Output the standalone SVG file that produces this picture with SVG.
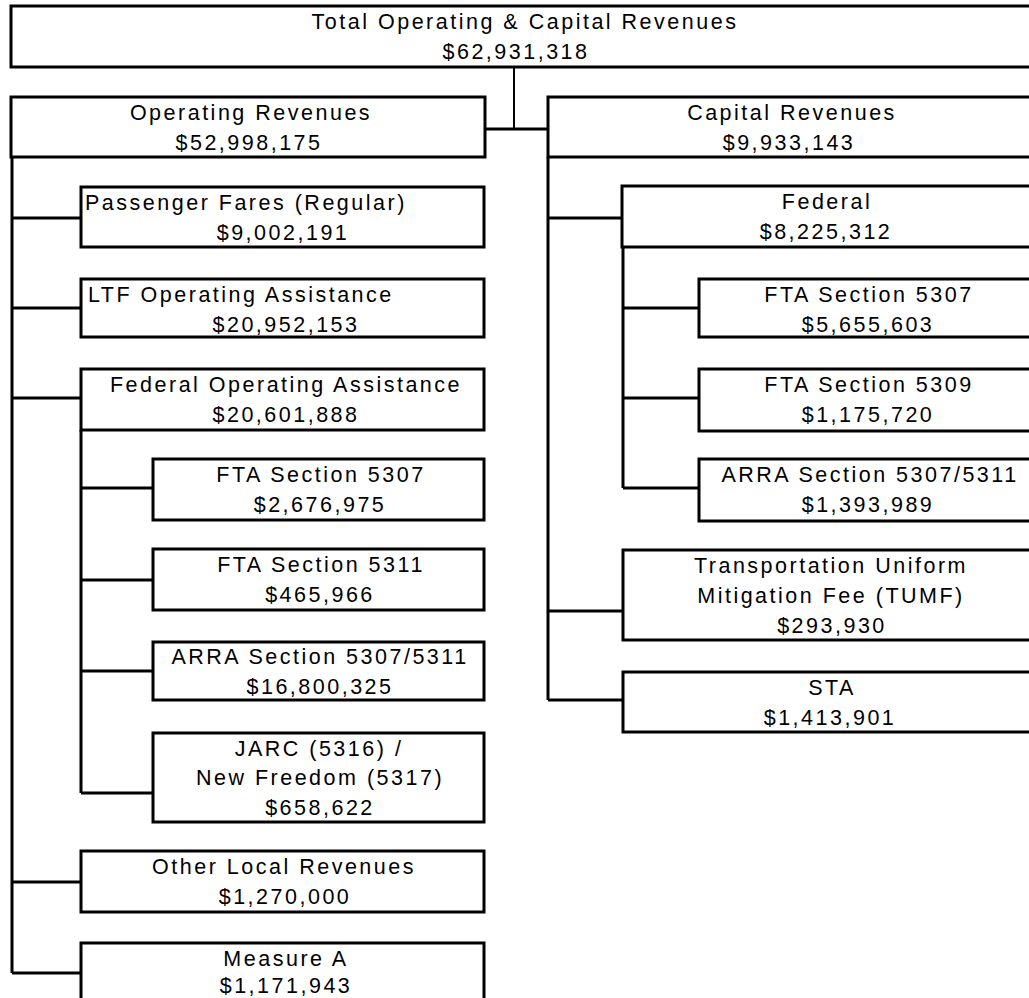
<svg xmlns="http://www.w3.org/2000/svg" width="1029" height="998" viewBox="0 0 1029 998">
<style>
.box{fill:#fff;stroke:#000;stroke-width:3}
.c{fill:none;stroke:#000;stroke-width:3}
text{font-family:"Liberation Sans",Arial,sans-serif;font-size:21.5px;letter-spacing:2.5px;fill:#000}
.m{text-anchor:middle}
</style>
<rect width="1029" height="998" fill="#fff"/>
<g id="connectors">
<path class="c" style="stroke-width:2" d="M514,67V129"/>
<path class="c" d="M485,129H548"/>
<path class="c" d="M12,157V973M12,218H81M12,308H81M12,398H81M12,882H81M12,973H81"/>
<path class="c" d="M81,430V793M81,488H153M81,580H153M81,671H153M81,793H153"/>
<path class="c" d="M548,157V700M548,218H622M548,611H623M548,700H623"/>
<path class="c" d="M623,247V488M623,308H699M623,398H699M623,488H699"/>
</g>
<g id="total">
<rect class="box" x="11" y="6" width="1022" height="61"/>
<text class="m" x="525" y="29">Total Operating &amp; Capital Revenues</text>
<text class="m" x="516" y="59">$62,931,318</text>
</g>
<g id="operating">
<rect class="box" x="11" y="97" width="474" height="60"/>
<text class="m" x="251" y="120">Operating Revenues</text>
<text class="m" x="249" y="150">$52,998,175</text>
</g>
<g id="capital">
<rect class="box" x="548" y="97" width="485" height="60"/>
<text class="m" x="792" y="120">Capital Revenues</text>
<text class="m" x="789" y="150">$9,933,143</text>
</g>
<g id="passenger">
<rect class="box" x="81" y="187" width="403" height="60"/>
<text x="85" y="210">Passenger Fares (Regular)</text>
<text class="m" x="283" y="240">$9,002,191</text>
</g>
<g id="ltf">
<rect class="box" x="81" y="279" width="403" height="58"/>
<text x="88" y="302">LTF Operating Assistance</text>
<text class="m" x="286" y="332">$20,952,153</text>
</g>
<g id="fedop">
<rect class="box" x="81" y="369" width="403" height="61"/>
<text class="m" x="286" y="392">Federal Operating Assistance</text>
<text class="m" x="286" y="422">$20,601,888</text>
</g>
<g id="fta5307L">
<rect class="box" x="153" y="459" width="331" height="61"/>
<text class="m" x="321" y="482">FTA Section 5307</text>
<text class="m" x="320" y="512">$2,676,975</text>
</g>
<g id="fta5311L">
<rect class="box" x="153" y="549" width="331" height="61"/>
<text class="m" x="321" y="572">FTA Section 5311</text>
<text class="m" x="320" y="602">$465,966</text>
</g>
<g id="arraL">
<rect class="box" x="153" y="642" width="331" height="58"/>
<text class="m" x="320" y="664">ARRA Section 5307/5311</text>
<text class="m" x="320" y="694">$16,800,325</text>
</g>
<g id="jarc">
<rect class="box" x="153" y="733" width="331" height="89"/>
<text class="m" x="319" y="756">JARC (5316) /</text>
<text class="m" x="320" y="785">New Freedom (5317)</text>
<text class="m" x="320" y="815">$658,622</text>
</g>
<g id="otherlocal">
<rect class="box" x="81" y="851" width="403" height="61"/>
<text class="m" x="284" y="874">Other Local Revenues</text>
<text class="m" x="285" y="904">$1,270,000</text>
</g>
<g id="measurea">
<rect class="box" x="81" y="943" width="403" height="70"/>
<text class="m" x="286" y="966">Measure A</text>
<text class="m" x="286" y="993">$1,171,943</text>
</g>
<g id="federal">
<rect class="box" x="622" y="186" width="411" height="61"/>
<text class="m" x="827" y="209">Federal</text>
<text class="m" x="826" y="239">$8,225,312</text>
</g>
<g id="fta5307R">
<rect class="box" x="699" y="279" width="334" height="58"/>
<text class="m" x="869" y="302">FTA Section 5307</text>
<text class="m" x="868" y="332">$5,655,603</text>
</g>
<g id="fta5309">
<rect class="box" x="699" y="369" width="334" height="62"/>
<text class="m" x="869" y="392">FTA Section 5309</text>
<text class="m" x="868" y="422">$1,175,720</text>
</g>
<g id="arraR">
<rect class="box" x="699" y="459" width="334" height="62"/>
<text class="m" x="870" y="482">ARRA Section 5307/5311</text>
<text class="m" x="868" y="512">$1,393,989</text>
</g>
<g id="tumf">
<rect class="box" x="623" y="550" width="410" height="90"/>
<text class="m" x="831" y="573">Transportation Uniform</text>
<text class="m" x="831" y="603">Mitigation Fee (TUMF)</text>
<text class="m" x="832" y="633">$293,930</text>
</g>
<g id="sta">
<rect class="box" x="623" y="672" width="410" height="60"/>
<text class="m" x="832" y="695">STA</text>
<text class="m" x="830" y="725">$1,413,901</text>
</g>
</svg>
